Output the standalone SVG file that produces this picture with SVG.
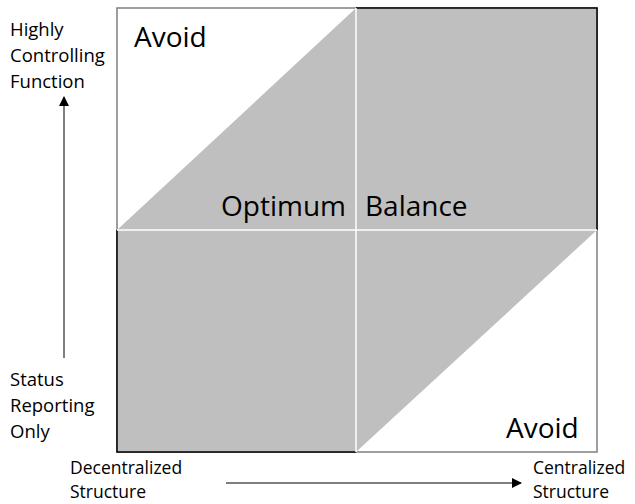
<svg xmlns="http://www.w3.org/2000/svg" width="635" height="504" viewBox="0 0 635 504">
<style>
.big{font-family:"Open Sans","Noto Sans","Liberation Sans",sans-serif;font-size:28px;fill:#000}
.lab{font-family:"Open Sans","Noto Sans","Liberation Sans",sans-serif;font-size:18.5px;fill:#000}
.labx{font-family:"Open Sans","Noto Sans","Liberation Sans",sans-serif;font-size:17.5px;fill:#000}
</style>
<defs>
<marker id="ah" markerWidth="10" markerHeight="10" refX="9" refY="5" orient="auto" markerUnits="userSpaceOnUse">
<path d="M0,0 L10,5 L0,10 Z" fill="#000"/>
</marker>
</defs>
<rect width="635" height="504" fill="#fff"/>
<g id="matrix">
<rect x="117" y="8" width="480" height="444" fill="#fff" stroke="#7f7f7f" stroke-width="1.5"/>
<polygon points="117,230 356,8 597,8 597,230 356,452 117,452" fill="#bfbfbf"/>
<path d="M356,8 H597 V230 M117,230 V452 H356" fill="none" stroke="#000" stroke-width="1.5"/>
<line x1="356" y1="8" x2="356" y2="452" stroke="#fff" stroke-width="1.5"/>
<line x1="117" y1="230" x2="597" y2="230" stroke="#fff" stroke-width="1.5"/>
</g>
<g id="avoid-top"><text class="big" x="134" y="47">Avoid</text></g>
<g id="optimum"><text class="big" x="221" y="216">Optimum</text><text class="big" x="365" y="216">Balance</text></g>
<g id="avoid-bottom"><text class="big" x="506" y="438">Avoid</text></g>
<g id="y-high"><text class="lab" x="10" y="36">Highly</text><text class="lab" x="10" y="62">Controlling</text><text class="lab" x="10" y="88">Function</text></g>
<g id="y-low"><text class="lab" x="10" y="386">Status</text><text class="lab" x="10" y="412">Reporting</text><text class="lab" x="10" y="438">Only</text></g>
<g id="x-low"><text class="labx" x="70" y="474">Decentralized</text><text class="labx" x="70" y="498">Structure</text></g>
<g id="x-high"><text class="labx" x="533" y="474">Centralized</text><text class="labx" x="533" y="498">Structure</text></g>
<g id="connectors">
<line x1="64" y1="358" x2="64" y2="97" stroke="#000" stroke-width="1" marker-end="url(#ah)"/>
<line x1="226" y1="483" x2="521" y2="483" stroke="#000" stroke-width="1" marker-end="url(#ah)"/>
</g>
</svg>
